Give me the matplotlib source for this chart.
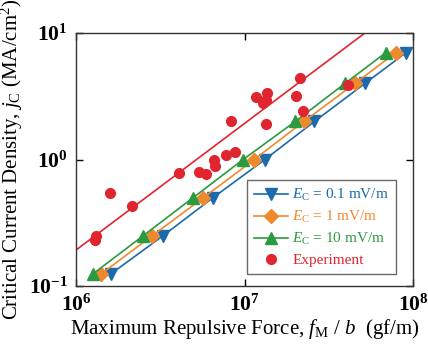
import numpy as np
import matplotlib
matplotlib.use("Agg")
import matplotlib.pyplot as plt
from matplotlib.ticker import FixedLocator, FixedFormatter, NullLocator

plt.rcParams['font.family'] = ['Liberation Serif', 'DejaVu Serif']
plt.rcParams['mathtext.fontset'] = 'custom'
plt.rcParams['mathtext.rm'] = 'Liberation Serif'
plt.rcParams['mathtext.it'] = 'Liberation Serif:italic'
plt.rcParams['mathtext.bf'] = 'Liberation Serif:bold'

# Simulated series: critical current density (MA/cm^2) vs force (gf/m)
jc_levels = [0.125, 0.25, 0.5, 1.0, 2.0, 4.0, 7.0]
f_ec01 = [1.61e6, 3.28e6, 6.5e6, 1.32e7, 2.6e7, 5.19e7, 9.1e7]
f_ec1 = [1.41e6, 2.83e6, 5.7e6, 1.14e7, 2.25e7, 4.53e7, 7.9e7]
f_ec10 = [1.26e6, 2.5e6, 4.95e6, 9.8e6, 2.0e7, 3.95e7, 6.9e7]

# Experiment
exp_f = [1.30e6, 1.31e6, 1.59e6, 2.15e6, 4.09e6, 5.37e6, 5.91e6, 6.59e6, 6.68e6,
         7.77e6, 8.78e6, 8.32e6, 1.17e7, 1.36e7, 1.29e7, 1.34e7, 1.34e7,
         2.02e7, 2.13e7, 2.22e7, 4.11e7]
exp_jc = [0.231, 0.248, 0.543, 0.428, 0.782, 0.796, 0.767, 0.99, 0.889,
          1.085, 1.146, 2.015, 3.12, 3.36, 2.80, 2.95, 1.91,
          3.18, 4.41, 2.42, 3.88]
exp_fit_coef = 1.93e-7  # jc = coef * f (slope 1 in log-log)
fit_range = [1e6, 1e8]

labels = [r'$E_\mathrm{C}$ = 0.1 mV/m', r'$E_\mathrm{C}$ = 1 mV/m',
          r'$E_\mathrm{C}$ = 10 mV/m', 'Experiment']
colors = ['#1a6aad', '#ee8a2e', '#2b9a40', '#e0252f']

fig = plt.figure(figsize=(4.28, 3.51), dpi=100)
ax = fig.add_axes([0.178, 0.185, 0.787, 0.721])

ax.plot(f_ec01, jc_levels, '-v', color=colors[0], lw=1.2, ms=9, label=labels[0])
ax.plot(f_ec1, jc_levels, '-D', color=colors[1], lw=1.2, ms=7, label=labels[1])
ax.plot(f_ec10, jc_levels, '-^', color=colors[2], lw=1.2, ms=9, label=labels[2])
fx = np.array(fit_range)
ax.plot(fx, exp_fit_coef * fx, '-', color=colors[3], lw=1.2)
ax.plot(exp_f, exp_jc, 'o', color=colors[3], ms=7, label=labels[3])

ax.set_xscale('log')
ax.set_yscale('log')
ax.set_xlim(1e6, 1e8)
ax.set_ylim(1e-1, 1e1)

ax.xaxis.set_major_locator(FixedLocator([1e6, 1e7, 1e8]))
ax.xaxis.set_major_formatter(FixedFormatter([r'$\mathbf{10^{6}}$', r'$\mathbf{10^{7}}$', r'$\mathbf{10^{8}}$']))
ax.yaxis.set_major_locator(FixedLocator([1e-1, 1e0, 1e1]))
ax.yaxis.set_major_formatter(FixedFormatter([r'$\mathbf{10^{-1}}$', r'$\mathbf{10^{0}}$', r'$\mathbf{10^{1}}$']))
ax.xaxis.set_minor_locator(NullLocator())
ax.yaxis.set_minor_locator(NullLocator())
ax.tick_params(direction='in', length=5, width=1, top=True, right=True, labelsize=15.5, pad=6)
for s in ax.spines.values():
    s.set_linewidth(1.0)
    s.set_color('#333333')

ax.set_xlabel(r'Maximum Repulsive Force, $f_\mathrm{M}$ / $b$  (gf/m)', fontsize=15, labelpad=1)
ax.set_ylabel(r'Critical Current Density, $j_\mathrm{C}$ (MA/cm$^2$)', fontsize=15, labelpad=3)

leg = ax.legend(loc='lower right', bbox_to_anchor=(0.95, 0.047), borderaxespad=0,
                fontsize=11, frameon=True, fancybox=False, edgecolor='#444444',
                handlelength=2.2, borderpad=0.45, labelspacing=0.4, handletextpad=0.3)
leg.get_frame().set_linewidth(1.0)
for t, c in zip(leg.get_texts(), colors):
    t.set_color(c)

fig.savefig('out.png', dpi=100)
